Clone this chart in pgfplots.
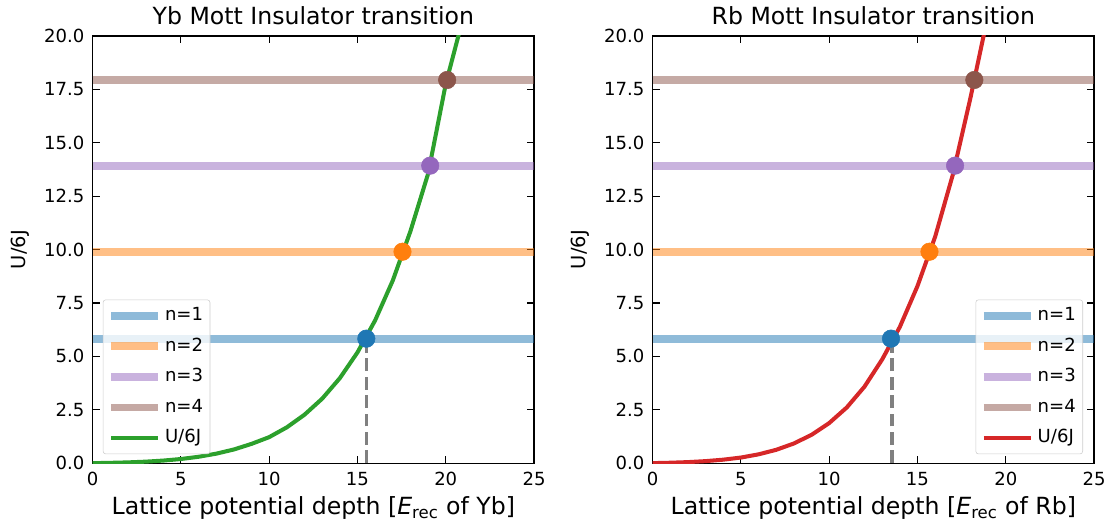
\documentclass[border=0pt]{standalone}
\usepackage{fontspec}
\setmainfont{DejaVu Sans}
\usepackage{pgfplots}
\pgfplotsset{compat=1.18}

\definecolor{tabblue}{HTML}{1F77B4}
\definecolor{taborange}{HTML}{FF7F0E}
\definecolor{tabpurple}{HTML}{9467BD}
\definecolor{tabbrown}{HTML}{8C564B}
\definecolor{tabgreen}{HTML}{2CA02C}
\definecolor{tabred}{HTML}{D62728}

\pgfplotsset{
  mottaxis/.style={
    scale only axis, width=317.8pt, height=307.6pt,
    xmin=0, xmax=25, ymin=0, ymax=20,
    xtick={0,5,10,15,20,25},
    ytick={0,2.5,5,7.5,10,12.5,15,17.5,20},
    tick align=inside, tick pos=both,
    major tick length=5pt, minor tick num=0,
    tick style={black, line width=0.8pt},
    axis line style={line width=0.8pt},
    /pgf/number format/assume math mode=true,
    ticklabel style={font=\fontsize{13}{15}\selectfont},
    xticklabel style={yshift=-3pt},
    yticklabel style={xshift=-2.5pt, /pgf/number format/fixed,
      /pgf/number format/fixed zerofill, /pgf/number format/precision=1},
    title style={font=\fontsize{17}{20}\selectfont, at={(axis description cs:0.5,1)}, anchor=base, yshift=2pt},
    xlabel style={font=\fontsize{17}{20}\selectfont, at={(axis description cs:0.5,0)}, anchor=base, yshift=-37.2pt},
    ylabel style={font=\fontsize{14}{17}\selectfont, at={(axis description cs:-0.1517,0.5)}, anchor=base},
    legend style={font=\fontsize{13}{15}\selectfont, draw=black!20, rounded corners=2pt,
      fill=white, fill opacity=0.8, text opacity=1, inner sep=3pt,
      cells={anchor=west}, nodes={inner sep=2pt, text height=10pt, text depth=3pt},
      row sep=5pt},
    legend image code/.code={\draw[#1] (0pt,0pt) -- (34pt,0pt);},
  },
  hline/.style={#1, opacity=0.5, line width=5.6pt},
  dot/.style={color=#1, only marks, mark=*, mark size=6.3pt, mark options={draw=#1, fill=#1}, forget plot},
  crit/.style={gray, line width=2.4pt, dash pattern=on 9.25pt off 4pt, forget plot},
}

\begin{document}
\begin{tikzpicture}
\begin{axis}[mottaxis,
  title={Yb Mott Insulator transition},
  xlabel={Lattice potential depth [\textit{E}\textsubscript{rec} of Yb]},
  ylabel={U/6J},
  legend style={at={(axis description cs:0.023,0.021)}, anchor=south west}]
  \addplot[hline=tabblue] coordinates {(0,5.83) (25,5.83)};
  \addlegendentry{n=1}
  \addplot[hline=taborange] coordinates {(0,9.90) (25,9.90)};
  \addlegendentry{n=2}
  \addplot[hline=tabpurple] coordinates {(0,13.93) (25,13.93)};
  \addlegendentry{n=3}
  \addplot[hline=tabbrown] coordinates {(0,17.94) (25,17.94)};
  \addlegendentry{n=4}
  \addplot[tabgreen, line width=2.9pt, line join=round] coordinates {
    (0,0.002) (1,0.017) (2,0.038) (3,0.072) (4,0.123) (5,0.196) (6,0.301)
    (7,0.446) (8,0.642) (9,0.905) (10,1.22) (11,1.68) (12,2.27) (13,3.02)
    (14,3.98) (15,5.186) (16,6.686) (17,8.552) (18,10.86) (19,13.55)
    (20,17.75) (21,20.9)};
  \addlegendentry{U/6J}
  \addplot[crit] coordinates {(15.5,0) (15.5,5.83)};
  \addplot[dot=tabblue] coordinates {(15.5,5.83)};
  \addplot[dot=taborange] coordinates {(17.55,9.90)};
  \addplot[dot=tabpurple] coordinates {(19.12,13.93)};
  \addplot[dot=tabbrown] coordinates {(20.08,17.94)};
\end{axis}

\begin{axis}[mottaxis, at={(403.2pt,0)},
  title={Rb Mott Insulator transition},
  xlabel={Lattice potential depth [\textit{E}\textsubscript{rec} of Rb]},
  ylabel={U/6J},
  legend style={at={(axis description cs:0.975,0.021)}, anchor=south east}]
  \addplot[hline=tabblue] coordinates {(0,5.83) (25,5.83)};
  \addlegendentry{n=1}
  \addplot[hline=taborange] coordinates {(0,9.90) (25,9.90)};
  \addlegendentry{n=2}
  \addplot[hline=tabpurple] coordinates {(0,13.93) (25,13.93)};
  \addlegendentry{n=3}
  \addplot[hline=tabbrown] coordinates {(0,17.94) (25,17.94)};
  \addlegendentry{n=4}
  \addplot[tabred, line width=2.9pt, line join=round] coordinates {
    (0,0.003) (1,0.022) (2,0.051) (3,0.097) (4,0.165) (5,0.265) (6,0.415)
    (7,0.627) (8,0.923) (9,1.329) (10,1.879) (11,2.613) (12,3.585) (13,4.858)
    (14,6.378) (15,8.293) (16,10.6) (17,13.5) (18,17.1) (19,21.0)};
  \addlegendentry{U/6J}
  \addplot[crit] coordinates {(13.55,0) (13.55,5.83)};
  \addplot[dot=tabblue] coordinates {(13.5,5.83)};
  \addplot[dot=taborange] coordinates {(15.68,9.90)};
  \addplot[dot=tabpurple] coordinates {(17.13,13.93)};
  \addplot[dot=tabbrown] coordinates {(18.22,17.94)};
\end{axis}
\pgfresetboundingbox
\path[use as bounding box] (-66.7pt,-47.3pt) rectangle (736.1pt,333.5pt);
\end{tikzpicture}
\end{document}
